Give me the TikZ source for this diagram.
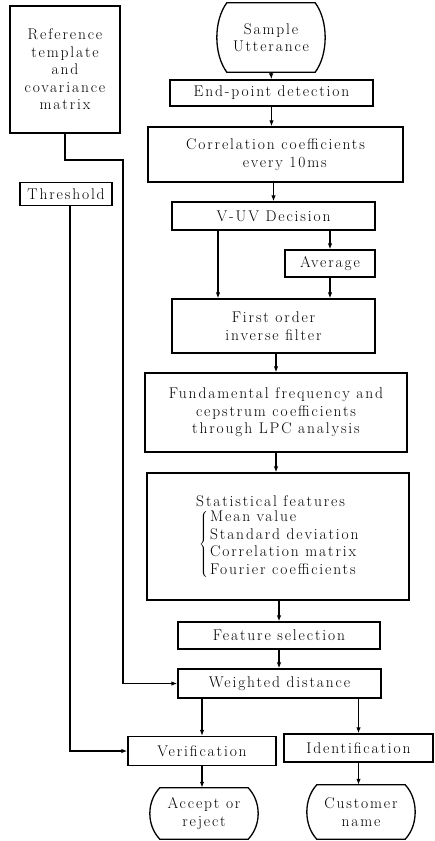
\documentclass[tikz,border=0pt]{standalone}
\usepackage{fontspec}
\setmainfont{Latin Modern Roman}[LetterSpace=12]
\usetikzlibrary{arrows.meta,calc}
\tikzset{
  box/.style={draw, line width=1.3pt, rectangle, inner sep=0pt, align=center},
  term/.style={inner sep=0pt, align=center},
  arr/.style={line width=1.4pt, -{Latex[length=6pt,width=4.5pt]}},
  every node/.style={font=\fontsize{15.5}{17.5}\selectfont},
}
\newcommand\termframe[2]{\draw[line width=1.3pt]
  ([xshift=-10pt]#1.north east) .. controls ([xshift=3.3pt,yshift=-#2pt]#1.north east) and ([xshift=3.3pt,yshift=#2pt]#1.south east) .. ([xshift=-10pt]#1.south east)
  -- ([xshift=10pt]#1.south west) .. controls ([xshift=-3.3pt,yshift=#2pt]#1.south west) and ([xshift=-3.3pt,yshift=-#2pt]#1.north west) .. ([xshift=10pt]#1.north west) -- cycle;}
\begin{document}
\begin{tikzpicture}[x=1pt,y=-1pt]
\useasboundingbox (0,0) rectangle (434,841);
% left column
\node[box, minimum width=110, minimum height=127] (ref) at (65,69.5) {Reference\\template\\and\\covariance\\matrix};
\node[box, minimum width=92, minimum height=23] (thr) at (66,194) {Threshold};
% main column
\node[term, minimum width=108, minimum height=69] (sample) at (271,37.5) {Sample\\Utterance};
\termframe{sample}{18}
\node[box, minimum width=203, minimum height=26] (endpt) at (271.5,93) {End-point detection};
\node[box, minimum width=255, minimum height=55] (corr) at (275.5,154.5) {Correlation coefficients\\\hspace*{1.2em}every 10ms};
\node[box, minimum width=203, minimum height=28] (vuv) at (273.5,216) {V-UV Decision};
\node[box, minimum width=90, minimum height=27] (avg) at (330,263.5) {Average};
\node[box, minimum width=203, minimum height=54] (fo) at (273.5,326) {First order\\inverse filter};
\node[box, minimum width=262, minimum height=79] (fund) at (276,412.5) {Fundamental frequency and\\cepstrum coefficients\\through LPC analysis};
\node[box, minimum width=262, minimum height=127] (stat) at (278,536.5) {\begin{tabular}{@{}l@{}}Statistical features\\[-2pt]
  \hspace*{3pt}$\left\{\hspace{2pt}\begin{tabular}{@{}l@{}}Mean value\\ Standard deviation\\ Correlation matrix\\ Fourier coefficients\end{tabular}\right.$\end{tabular}};
\node[box, minimum width=202, minimum height=27] (feat) at (279,635.5) {Feature selection};
\node[box, minimum width=203, minimum height=29] (wd) at (279.5,683.5) {Weighted distance};
\node[box, minimum width=148, minimum height=29] (ver) at (202,751) {Verification};
\node[box, minimum width=149, minimum height=28] (ident) at (358.5,748) {Identification};
\node[term, minimum width=108, minimum height=51] (acc) at (204,813.5) {Accept or\\reject};
\termframe{acc}{14}
\node[term, minimum width=108, minimum height=54] (cust) at (361,812) {Customer\\name};
\termframe{cust}{14}
% connectors
\coordinate (r1) at (123,160);
\draw[arr] (sample.south) -- (endpt.north);
\draw[arr] (endpt.south) -- (endpt.south |- corr.north);
\draw[arr] (corr.south -| vuv) -- (vuv.north);
\draw[arr] ([xshift=-55.5pt]vuv.south) -- ([xshift=-55.5pt]vuv.south |- fo.north);
\draw[arr] (vuv.south -| avg) -- (avg.north);
\draw[arr] (avg.south) -- (avg.south |- fo.north);
\draw[arr] (fo.south -| fund) -- (fund.north);
\draw[arr] (fund.south) -- (fund.south |- stat.north);
\draw[arr] (stat.south -| feat) -- (feat.north);
\draw[arr] (feat.south) -- (feat.south |- wd.north);
\draw[arr, line width=1.8pt] (wd.south -| ver) -- (ver.north);
\draw[arr] (wd.south -| ident) -- (ident.north);
\draw[arr] (ver.south) -- (ver.south |- acc.north);
\draw[arr] (ident.south) -- (ident.south |- cust.north);
\draw[arr] (ref.south) |- (r1) |- (wd.west);
\draw[arr] ([xshift=4pt]thr.south) |- (ver.west);
\end{tikzpicture}
\end{document}
